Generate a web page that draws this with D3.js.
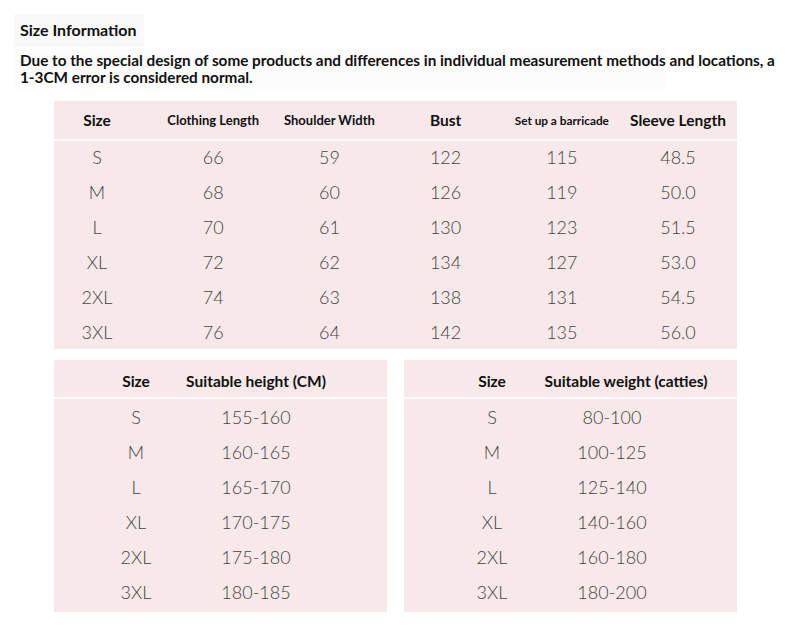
<!DOCTYPE html>
<html lang="en">
<head>
<meta charset="UTF-8" />
<title>Size Information</title>
<script src="https://d3js.org/d3.v7.min.js"></script>
<style>
  body { margin: 0; padding: 0; background: #fff; }
  svg { display: block; font-family: Lato, "Open Sans", sans-serif; }
</style>
</head>
<body>
<svg id="chart" width="790" height="633"></svg>
<script>
// size chart data
const sizes = ["S", "M", "L", "XL", "2XL", "3XL"];
const mainColumns = ["Size", "Clothing Length", "Shoulder Width", "Bust", "Set up a barricade", "Sleeve Length"];
const clothingLength = ["66", "68", "70", "72", "74", "76"];
const shoulderWidth = ["59", "60", "61", "62", "63", "64"];
const bust = ["122", "126", "130", "134", "138", "142"];
const barricade = ["115", "119", "123", "127", "131", "135"];
const sleeveLength = ["48.5", "50.0", "51.5", "53.0", "54.5", "56.0"];
const heightColumns = ["Size", "Suitable height (CM)"];
const suitableHeight = ["155-160", "160-165", "165-170", "170-175", "175-180", "180-185"];
const weightColumns = ["Size", "Suitable weight (catties)"];
const suitableWeight = ["80-100", "100-125", "125-140", "140-160", "160-180", "180-200"];

const pink = "#f7e8e9";
const svg = d3.select("#chart");

// header sizes differ a bit per column in the original
function headSize(d) {
  if (d === "Set up a barricade") return 11.8;
  if (d === "Clothing Length" || d === "Shoulder Width") return 13;
  return 15.5;
}

// title + note
svg.append("rect").attr("x", 14).attr("y", 14).attr("width", 130).attr("height", 33).attr("fill", "#f9f9f9");
svg.append("rect").attr("x", 14).attr("y", 49).attr("width", 652).attr("height", 40).attr("fill", "#fcfcfc");
svg.append("text").attr("x", 20).attr("y", 36)
  .attr("font-size", 16).attr("font-weight", 700).attr("fill", "#111")
  .text("Size Information");
svg.append("text").attr("x", 20).attr("y", 66)
  .attr("font-size", 15.3).attr("font-weight", 700).attr("fill", "#111")
  .text("Due to the special design of some products and differences in individual measurement methods and locations, a");
svg.append("text").attr("x", 20).attr("y", 83)
  .attr("font-size", 15.3).attr("font-weight", 700).attr("fill", "#111")
  .text("1-3CM error is considered normal.");

function drawTable(opts) {
  const g = svg.append("g");
  g.append("rect")
    .attr("x", opts.x0).attr("y", opts.y0)
    .attr("width", opts.x1 - opts.x0).attr("height", opts.y1 - opts.y0)
    .attr("fill", pink);
  g.append("line")
    .attr("x1", opts.x0).attr("x2", opts.x1)
    .attr("y1", opts.sep).attr("y2", opts.sep)
    .attr("stroke", "#fff").attr("stroke-width", 1.5);

  const x = d3.scalePoint().domain(opts.columns).range(opts.colRange);
  const y = d3.scalePoint().domain(sizes).range(opts.rowRange);
  const headShift = opts.headShift || (() => 0);

  g.selectAll(".head")
    .data(opts.columns)
    .join("text")
    .attr("class", "head")
    .attr("x", d => x(d) + headShift(d))
    .attr("y", opts.headY)
    .attr("text-anchor", "middle")
    .attr("dominant-baseline", "central")
    .attr("font-weight", 700)
    .attr("font-size", headSize)
    .attr("fill", "#111")
    .text(d => d);

  opts.series.forEach((vals, i) => {
    const col = opts.columns[i];
    g.selectAll(".c" + i)
      .data(vals)
      .join("text")
      .attr("x", x(col))
      .attr("y", (d, j) => y(sizes[j]))
      .attr("text-anchor", "middle")
      .attr("dominant-baseline", "central")
      .attr("font-size", 18)
      .attr("font-weight", 300)
      .attr("fill", "#444")
      .text(d => d);
  });
}

drawTable({
  x0: 54, x1: 737, y0: 101, y1: 349, sep: 140,
  columns: mainColumns, colRange: [97, 678],
  rowRange: [157, 332], headY: 120,
  series: [sizes, clothingLength, shoulderWidth, bust, barricade, sleeveLength]
});

drawTable({
  x0: 54, x1: 387, y0: 360, y1: 612, sep: 398,
  columns: heightColumns, colRange: [136, 256],
  rowRange: [417, 592], headY: 381,
  series: [sizes, suitableHeight]
});

// weight header sits a little right of its values
drawTable({
  x0: 404, x1: 737, y0: 360, y1: 612, sep: 398,
  columns: weightColumns, colRange: [492, 612],
  rowRange: [417, 592], headY: 381,
  headShift: d => d === "Size" ? 0 : 14,
  series: [sizes, suitableWeight]
});
</script>
</body>
</html>
